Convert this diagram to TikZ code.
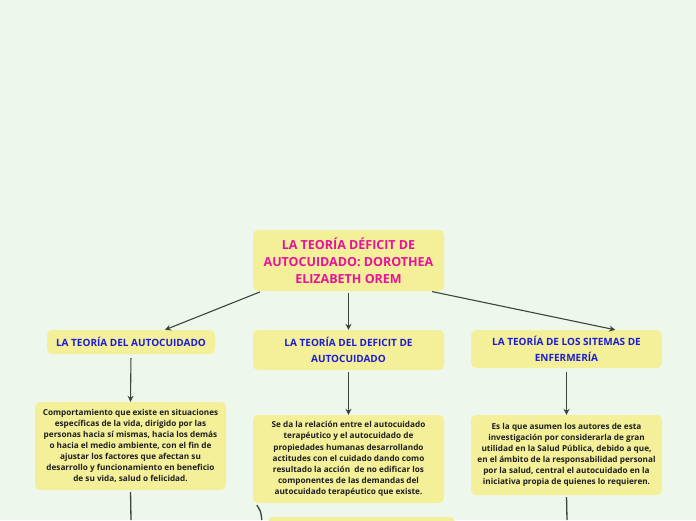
\documentclass[tikz,border=0pt]{standalone}
\usepackage{fontspec}
\setmainfont{Open Sans}
\usetikzlibrary{arrows.meta,calc}
\definecolor{bgc}{HTML}{EEF7EC}
\definecolor{boxc}{HTML}{F4F09A}
\definecolor{magc}{HTML}{E8129B}
\definecolor{bluc}{HTML}{1C1CD6}
\definecolor{txtc}{HTML}{1E1E1E}
\definecolor{linc}{HTML}{3A463A}
\tikzset{
  x=1pt,y=-1pt,
  box/.style={fill=boxc,rounded corners=5pt,inner sep=0pt,align=center,font=\bfseries},
  mainbox/.style={box,minimum width=191pt,minimum height=61pt,text=magc,font=\bfseries\fontsize{12.5}{17}\selectfont},
  subbox/.style={box,text=bluc,font=\bfseries\fontsize{10}{16}\selectfont},
  leafbox/.style={box,text=txtc,font=\bfseries\fontsize{8.2}{11.1}\selectfont},
  conn/.style={draw=linc,line width=1.1pt,-{Stealth[length=6pt,width=6pt]}},
  plain/.style={draw=linc,line width=1.3pt}
}
\begin{document}
\begin{tikzpicture}
\fill[bgc] (0,0) rectangle (696,520);
\useasboundingbox (0,0) rectangle (696,520);
\node[mainbox] (c) at (348.5,260.5) {LA TEORÍA DÉFICIT DE\\AUTOCUIDADO: DOROTHEA\\ELIZABETH OREM};
\node[subbox,minimum width=168pt,minimum height=24pt] (a) at (131,342) {LA TEORÍA DEL AUTOCUIDADO};
\node[subbox,minimum width=191pt,minimum height=40pt] (b) at (348.5,350) {LA TEORÍA DEL DEFICIT DE\\AUTOCUIDADO};
\node[subbox,minimum width=191pt,minimum height=38pt] (d) at (566.5,349) {LA TEORÍA DE LOS SITEMAS DE\\ENFERMERÍA};
\node[leafbox,minimum width=191pt,minimum height=88pt] (a1) at (130.5,446) {Comportamiento que existe en situaciones\\específicas de la vida, dirigido por las\\personas hacia sí mismas, hacia los demás\\o hacia el medio ambiente, con el fin de\\ajustar los factores que afectan su\\desarrollo y funcionamiento en beneficio\\de su vida, salud o felicidad.};
\node[leafbox,minimum width=191pt,minimum height=88pt] (b1) at (348.5,459) {Se da la relación entre el autocuidado\\terapéutico y el autocuidado de\\propiedades humanas desarrollando\\actitudes con el cuidado dando como\\resultado la acción \ de no edificar los\\componentes de las demandas del\\autocuidado terapéutico que existe.};
\node[leafbox,minimum width=191pt,minimum height=80pt] (d1) at (566.5,455) {Es la que asumen los autores de esta\\investigación por considerarla de gran\\utilidad en la Salud Pública, debido a que,\\en el ámbito de la responsabilidad personal\\por la salud, central el autocuidado en la\\iniciativa propia de quienes lo requieren.};
\node[box,minimum width=187pt,minimum height=26pt] (b2) at (361.5,530) {};
\coordinate (ea) at (131,520);
\coordinate (ed) at (567,520);
\draw[conn,shorten <=2pt] ([xshift=9pt]c.south west) -- ([xshift=34pt]a.north);
\draw[conn,shorten <=2pt] (c.south) -- (b.north);
\draw[conn,shorten <=2pt] ([xshift=-14pt]c.south east) -- ([xshift=-47pt]d.north east);
\draw[conn,shorten <=4pt] (a.south) -- (a1.north);
\draw[conn,shorten <=2pt] (b.south) -- (b1.north);
\draw[conn,shorten <=4pt] (d.south) -- (d1.north);
\draw[plain,shorten <=2pt] (a1.south) -- (ea);
\draw[plain,shorten <=2pt] (d1.south) -- (ed);
\draw[plain] ([xshift=4pt,yshift=-2pt]b1.south west) .. controls ([xshift=8pt,yshift=-8pt]b1.south west) .. ([xshift=-6pt]b2.west |- ed);
\end{tikzpicture}
\end{document}
